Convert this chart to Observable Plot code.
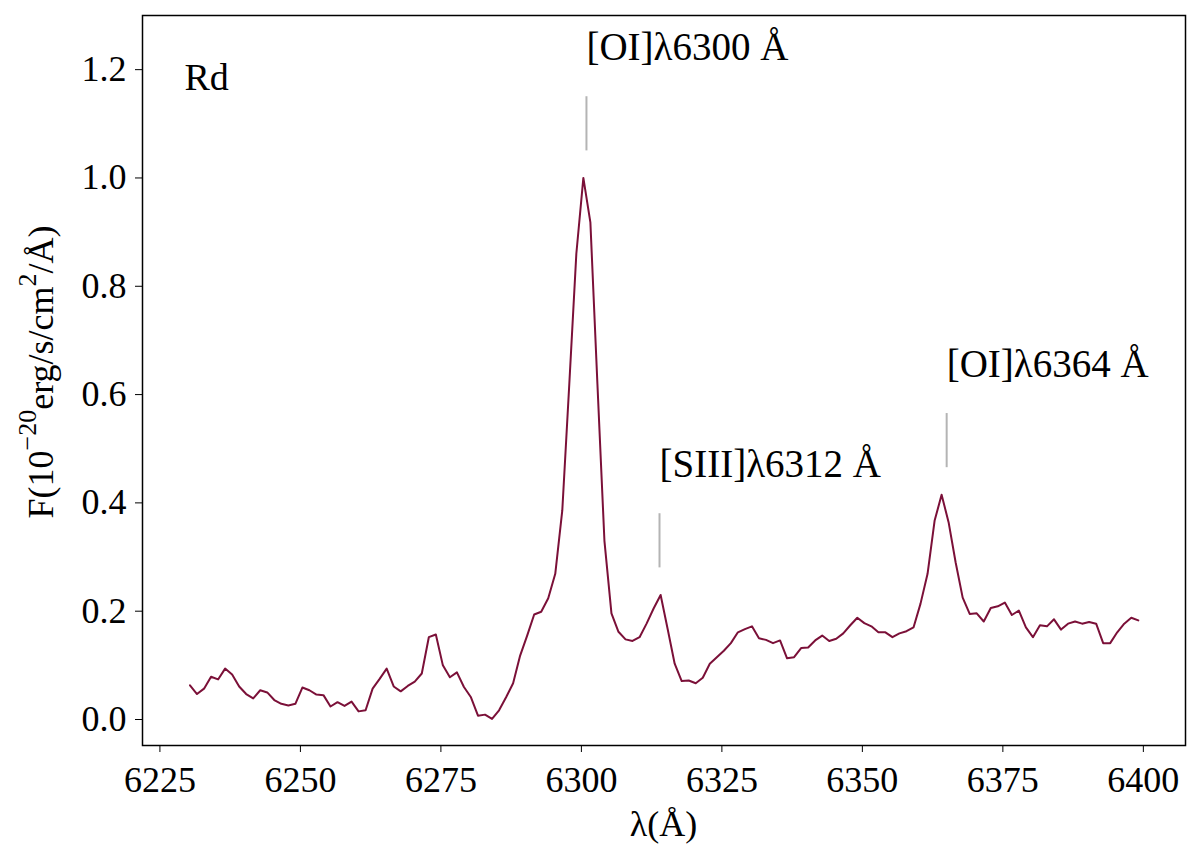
<!DOCTYPE html>
<html>
<head>
<meta charset="utf-8">
<script src="https://cdn.jsdelivr.net/npm/d3@7"></script>
<script src="https://cdn.jsdelivr.net/npm/@observablehq/plot@0.6"></script>
<style>
  html, body { margin: 0; padding: 0; background: #ffffff; }
  #chart { width: 1200px; height: 866px; }
</style>
</head>
<body>
<div id="chart"></div>
<script>
// Spectrum sampling (MUSE-like, 1.25 Å per pixel)
const lambdaStart = 6230.35;
const lambdaStep = 1.25;

// Normalised flux
const flux = [
  0.063, 0.047, 0.057, 0.079, 0.074, 0.094, 0.083, 0.061, 0.047, 0.039,
  0.054, 0.050, 0.036, 0.029, 0.026, 0.029, 0.059, 0.054, 0.046, 0.045,
  0.024, 0.032, 0.025, 0.033, 0.015, 0.017, 0.057, 0.075, 0.094, 0.061,
  0.052, 0.062, 0.070, 0.085, 0.152, 0.157, 0.100, 0.078, 0.087, 0.060,
  0.041, 0.007, 0.009, 0.001, 0.017, 0.041, 0.067, 0.118, 0.155, 0.194,
  0.199, 0.224, 0.269, 0.386, 0.620, 0.860, 1.000, 0.918, 0.620, 0.330,
  0.196, 0.162, 0.148, 0.145, 0.152, 0.177, 0.205, 0.230, 0.167, 0.103,
  0.071, 0.072, 0.067, 0.077, 0.103, 0.115, 0.127, 0.141, 0.161, 0.167,
  0.172, 0.150, 0.147, 0.141, 0.146, 0.113, 0.115, 0.132, 0.133, 0.146,
  0.155, 0.145, 0.149, 0.159, 0.174, 0.188, 0.178, 0.172, 0.161, 0.161,
  0.152, 0.159, 0.163, 0.170, 0.214, 0.269, 0.367, 0.415, 0.364, 0.290,
  0.225, 0.195, 0.196, 0.181, 0.206, 0.209, 0.216, 0.193, 0.201, 0.170,
  0.152, 0.174, 0.172, 0.185, 0.166, 0.177, 0.181, 0.177, 0.180, 0.177,
  0.141, 0.141, 0.161, 0.177, 0.188, 0.183
];

// Emission line annotations
const lineNames = ["[OI]\u03bb6300 \u00c5", "[SIII]\u03bb6312 \u00c5", "[OI]\u03bb6364 \u00c5"];
const lineWave = [6300.9, 6313.9, 6365.0];
const linePeak = [1.000, 0.230, 0.415];

// Axis ticks
const xTicks = [6225, 6250, 6275, 6300, 6325, 6350, 6375, 6400];
const yTicks = [0.0, 0.2, 0.4, 0.6, 0.8, 1.0, 1.2];

const spectrum = flux.map((f, i) => ({ wl: lambdaStart + i * lambdaStep, f }));
const lines = lineNames.map((name, i) => ({ name, wl: lineWave[i], peak: linePeak[i] }));

const serif = "'Liberation Serif', 'Times New Roman', Times, serif";

const svg = Plot.plot({
  width: 1200,
  height: 866,
  marginLeft: 142,
  marginRight: 15,
  marginTop: 15,
  marginBottom: 121,
  style: { fontFamily: serif, fontSize: "36px", color: "#000", background: "#fff", overflow: "visible" },
  x: { domain: [6221.9, 6407.5], ticks: xTicks, tickFormat: d => String(d), label: null, tickSize: 7, tickPadding: 14 },
  y: { domain: [-0.048, 1.3], ticks: yTicks, tickFormat: d3.format(".1f"), label: null, tickSize: 7, tickPadding: 9 },
  marks: [
    Plot.line(spectrum, { x: "wl", y: "f", stroke: "#7b1038", strokeWidth: 2 }),
    Plot.ruleX(lines, { x: "wl", y1: d => d.peak + 0.05, y2: d => d.peak + 0.15, stroke: "#b4b4b4", strokeWidth: 2 }),
    Plot.text(lines, { x: "wl", y: d => d.peak + 0.24, text: "name", textAnchor: "start", lineAnchor: "middle", fontSize: 39, fill: "#000" }),
    Plot.text(["Rd"], { frameAnchor: "top-left", dx: 42, dy: 62, textAnchor: "start", lineAnchor: "middle", fontSize: 38, fill: "#000" }),
    Plot.frame({ stroke: "#000", strokeWidth: 1.5 })
  ]
});

const s = d3.select(svg);
// x-axis label
s.append("text")
  .attr("x", 663.5).attr("y", 828)
  .attr("text-anchor", "middle").attr("dominant-baseline", "middle")
  .attr("font-family", serif).attr("font-size", 36).attr("fill", "#000")
  .text("\u03bb(\u00c5)");
// y-axis label with superscripts
const yl = s.append("text")
  .attr("transform", "translate(45,372) rotate(-90)")
  .attr("text-anchor", "middle").attr("dominant-baseline", "middle")
  .attr("font-family", serif).attr("font-size", 36).attr("fill", "#000");
yl.append("tspan").text("F(10");
yl.append("tspan").attr("baseline-shift", "super").attr("font-size", 26).text("\u221220");
yl.append("tspan").text("erg/s/cm");
yl.append("tspan").attr("baseline-shift", "super").attr("font-size", 26).text("2");
yl.append("tspan").text("/\u00c5)");

document.getElementById("chart").appendChild(svg);
</script>
</body>
</html>
